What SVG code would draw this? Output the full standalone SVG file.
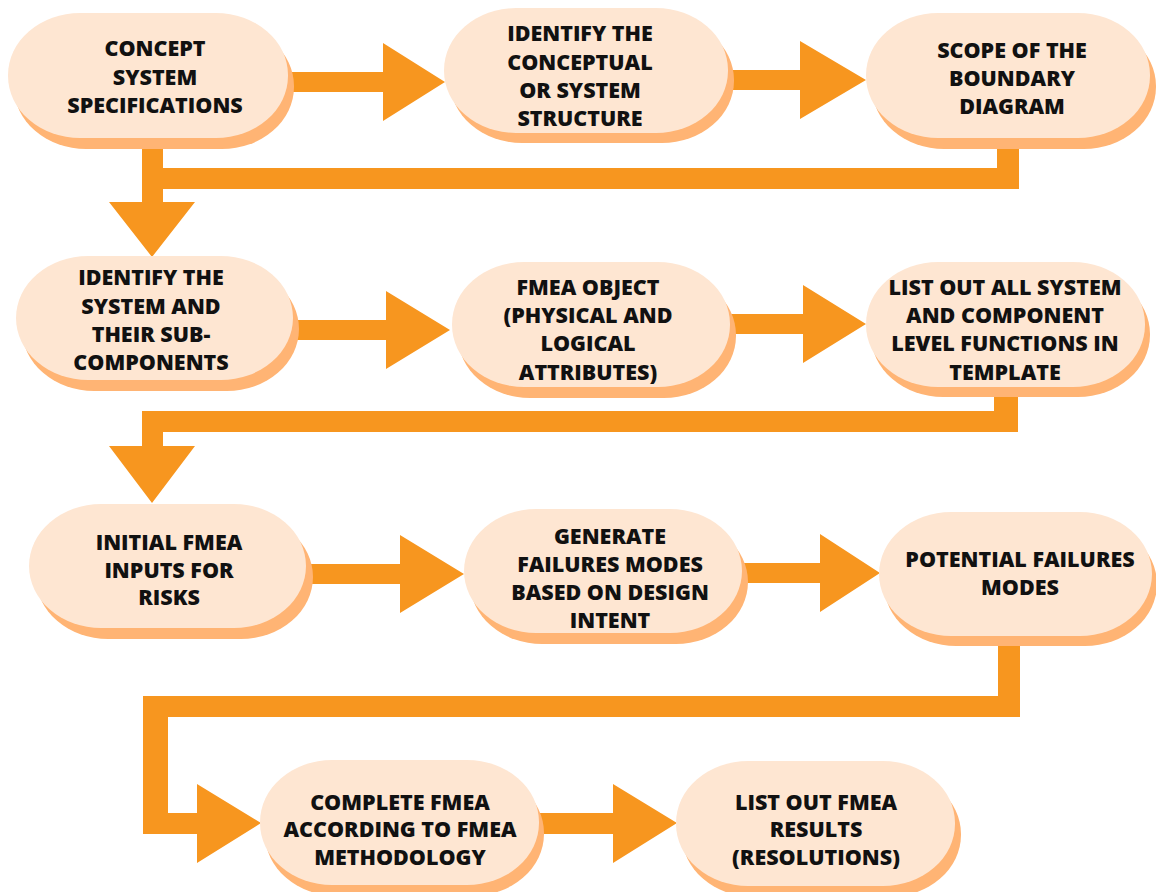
<svg xmlns="http://www.w3.org/2000/svg" width="1156" height="892" viewBox="0 0 1156 892">
  <style>
    .sh { fill: #FFB474; }
    .fc { fill: #FEE6D2; }
    .cn { fill: #F7961F; }
    text { font-family: "Open Sans", "Liberation Sans", sans-serif; font-weight: 800; font-size: 21.5px; fill: #111111; text-anchor: middle; }
  </style>
  <rect width="1156" height="892" fill="#FFFFFF"/>

  <!-- connectors -->
  <g id="connectors" class="cn">
    <polygon points="283,72 383,72 383,43 445,82 383,121 383,92 283,92"/>
    <polygon points="724,70 800,70 800,41 866,80 800,119 800,90 724,90"/>
    <polygon points="997,145 1019,145 1019,189 163,189 163,202 195,202 152,257 109,202 142,202 142,140 163,140 163,168 997,168"/>
    <polygon points="290,320 386,320 386,291 450,330 386,369 386,340 290,340"/>
    <polygon points="726,314 803,314 803,285 866,324 803,363 803,334 726,334"/>
    <polygon points="994,390 1018,390 1018,432 163,432 163,446 195,446 152,503 109,446 142,446 142,411 994,411"/>
    <polygon points="302,564 400,564 400,535 464,574 400,613 400,584 302,584"/>
    <polygon points="738,563 820,563 820,534 880,573 820,612 820,583 738,583"/>
    <polygon points="998,640 1020,640 1020,717 168,717 168,813 197,813 197,784 261,823 197,863 197,834 143,834 143,696 998,696"/>
    <polygon points="535,813 613,813 613,784 677,823 613,863 613,834 535,834"/>
  </g>

  <g id="n1">
    <rect class="sh" x="14" y="24" width="280" height="125" rx="72" ry="62"/>
    <rect class="fc" x="8" y="13" width="280" height="125" rx="72" ry="62"/>
    <text x="155" y="56">CONCEPT</text>
    <text x="155" y="85">SYSTEM</text>
    <text x="155" y="113">SPECIFICATIONS</text>
  </g>
  <g id="n2">
    <rect class="sh" x="450" y="18" width="284" height="125" rx="72" ry="62"/>
    <rect class="fc" x="444" y="8" width="284" height="125" rx="72" ry="62"/>
    <text x="580" y="41">IDENTIFY THE</text>
    <text x="580" y="70">CONCEPTUAL</text>
    <text x="580" y="98">OR SYSTEM</text>
    <text x="580" y="126">STRUCTURE</text>
  </g>
  <g id="n3">
    <rect class="sh" x="872" y="24" width="284" height="125" rx="72" ry="62"/>
    <rect class="fc" x="866" y="13" width="284" height="125" rx="72" ry="62"/>
    <text x="1012" y="58">SCOPE OF THE</text>
    <text x="1012" y="86">BOUNDARY</text>
    <text x="1012" y="114">DIAGRAM</text>
  </g>
  <g id="n4">
    <rect class="sh" x="22" y="267" width="277" height="124" rx="72" ry="62"/>
    <rect class="fc" x="16" y="256" width="277" height="124" rx="72" ry="62"/>
    <text x="151" y="285">IDENTIFY THE</text>
    <text x="151" y="314">SYSTEM AND</text>
    <text x="151" y="342">THEIR SUB-</text>
    <text x="151" y="370">COMPONENTS</text>
  </g>
  <g id="n5">
    <rect class="sh" x="458" y="273" width="278" height="125" rx="72" ry="62"/>
    <rect class="fc" x="452" y="262" width="278" height="125" rx="72" ry="62"/>
    <text x="588" y="295">FMEA OBJECT</text>
    <text x="588" y="323">(PHYSICAL AND</text>
    <text x="588" y="351">LOGICAL</text>
    <text x="588" y="380">ATTRIBUTES)</text>
  </g>
  <g id="n6">
    <rect class="sh" x="871" y="272" width="279" height="125" rx="72" ry="62"/>
    <rect class="fc" x="866" y="262" width="279" height="125" rx="72" ry="62"/>
    <text x="1005" y="295">LIST OUT ALL SYSTEM</text>
    <text x="1005" y="323">AND COMPONENT</text>
    <text x="1005" y="351">LEVEL FUNCTIONS IN</text>
    <text x="1005" y="380">TEMPLATE</text>
  </g>
  <g id="n7">
    <rect class="sh" x="36" y="515" width="277" height="124" rx="72" ry="62"/>
    <rect class="fc" x="29" y="504" width="277" height="124" rx="72" ry="62"/>
    <text x="169" y="550">INITIAL FMEA</text>
    <text x="169" y="578">INPUTS FOR</text>
    <text x="169" y="605">RISKS</text>
  </g>
  <g id="n8">
    <rect class="sh" x="470" y="520" width="278" height="124" rx="72" ry="62"/>
    <rect class="fc" x="464" y="509" width="278" height="124" rx="72" ry="62"/>
    <text x="610" y="544">GENERATE</text>
    <text x="610" y="572">FAILURES MODES</text>
    <text x="610" y="600">BASED ON DESIGN</text>
    <text x="610" y="628">INTENT</text>
  </g>
  <g id="n9">
    <rect class="sh" x="884" y="522" width="273" height="124" rx="72" ry="62"/>
    <rect class="fc" x="879" y="512" width="273" height="124" rx="72" ry="62"/>
    <text x="1020" y="567">POTENTIAL FAILURES</text>
    <text x="1020" y="595">MODES</text>
  </g>
  <g id="n10">
    <rect class="sh" x="265" y="771" width="279" height="125" rx="72" ry="62"/>
    <rect class="fc" x="260" y="760" width="279" height="125" rx="72" ry="62"/>
    <text x="400" y="810">COMPLETE FMEA</text>
    <text x="400" y="837">ACCORDING TO FMEA</text>
    <text x="400" y="865">METHODOLOGY</text>
  </g>
  <g id="n11">
    <rect class="sh" x="682" y="772" width="279" height="125" rx="72" ry="62"/>
    <rect class="fc" x="676" y="761" width="279" height="125" rx="72" ry="62"/>
    <text x="816" y="810">LIST OUT FMEA</text>
    <text x="816" y="837">RESULTS</text>
    <text x="816" y="865">(RESOLUTIONS)</text>
  </g>
</svg>
